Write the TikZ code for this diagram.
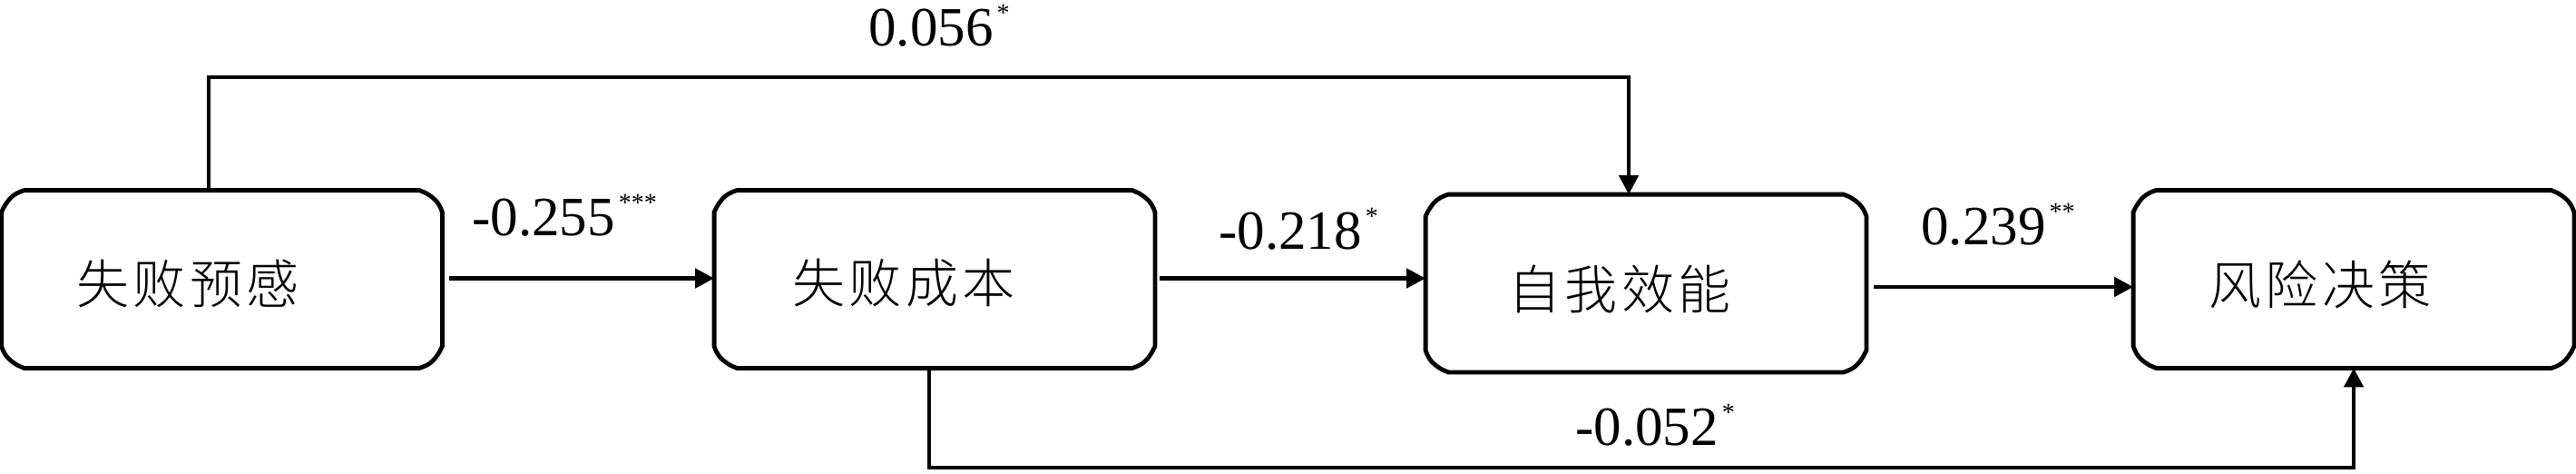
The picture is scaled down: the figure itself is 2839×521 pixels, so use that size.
\documentclass[tikz,border=0pt]{standalone}
\usepackage{fontspec}
\setmainfont{Liberation Serif}
\newfontfamily\cjk[LetterSpace=8,UprightFont={* Light}]{Noto Sans CJK SC}
\usetikzlibrary{arrows.meta,calc}
\newcommand\boxborder[1]{%
\draw[boxline] let \p1=(#1.north west), \p2=(#1.south east) in
 (\x1+12.5pt,\y1) -- (\x2-12.5pt,\y1)
 -- (\x2-9pt,\y1-1.5pt) .. controls (\x2-5pt,\y1-4pt) and (\x2-2pt,\y1-6pt) .. (\x2,\y1-12pt)
 -- (\x2,\y2+12pt)
 -- (\x2-1.5pt,\y2+9pt) .. controls (\x2-4pt,\y2+5pt) and (\x2-6pt,\y2+2pt) .. (\x2-12.5pt,\y2)
 -- (\x1+12.5pt,\y2)
 -- (\x1+9pt,\y2+1.5pt) .. controls (\x1+5pt,\y2+4pt) and (\x1+2pt,\y2+6pt) .. (\x1,\y2+12pt)
 -- (\x1,\y1-12pt)
 -- (\x1+1.5pt,\y1-9pt) .. controls (\x1+4pt,\y1-5pt) and (\x1+6pt,\y1-2pt) .. (\x1+12.5pt,\y1)
 -- cycle;}
\newcommand\sig[1]{\kern2pt\raisebox{13.5pt}{\fontsize{14pt}{14pt}\selectfont #1}}
\begin{document}
\begin{tikzpicture}[x=0.5pt,y=-0.5pt,
  boxnode/.style={minimum width=242.5pt,minimum height=97.5pt,inner sep=0pt,draw=none},
  boxline/.style={line width=2.4pt,line join=miter},
  conn/.style={line width=2.4pt},
  arr/.style={conn,-{Triangle[length=10.5pt,width=10.5pt]}},
  cntext/.style={font=\cjk\fontsize{29pt}{29pt}\selectfont,inner sep=0pt},
  coef/.style={font=\fontsize{30.5pt}{30.5pt}\selectfont,inner sep=0pt,anchor=base west}]
\useasboundingbox (0,0) rectangle (2839,521);
\fill[white] (0,0) rectangle (2839,521);
% boxes
\node[boxnode] (b1) at (244.5,307.5) {};
\node[boxnode] (b2) at (1030,307.5) {};
\node[boxnode] (b3) at (1814,312) {};
\node[boxnode] (b4) at (2594,307.5) {};
\boxborder{b1}
\boxborder{b2}
\boxborder{b3}
\boxborder{b4}
% texts
\node[cntext] (t1) at (207,313) {失败预感};
\node[cntext] (t2) at (996,312) {失败成本};
\node[cntext] (t3) at (1785,318) {自我效能};
\node[cntext] (t4) at (2557,313) {风险决策};
% straight arrows
\coordinate (a1s) at ($(b1.east)+(8,-1)$);
\draw[arr] (a1s) -- (b2.west |- a1s);
\coordinate (a2s) at ($(b2.east)+(5,-1)$);
\draw[arr] (a2s) -- (b3.west |- a2s);
\coordinate (a3s) at ($(b3.east)+(8,4)$);
\draw[arr] (a3s) -- (b4.west |- a3s);
% elbow connectors
\coordinate (tl) at (230,85);
\coordinate (tr) at (1795,85);
\draw[arr] (b1.north -| tl) -- (tl) -- (tr) -- (b3.north -| tr);
\coordinate (bl) at (1024,515);
\draw[arr] (b2.south -| bl) -- (bl) -| (b4.south);
% coefficients
\node[coef] (c1) at (957,50) {0.056\sig{*}};
\node[coef] (c2) at (520,259) {-0.255\sig{***}};
\node[coef] (c3) at (1343,274) {-0.218\sig{*}};
\node[coef] (c4) at (2117,269) {0.239\sig{**}};
\node[coef] (c5) at (1736,490) {-0.052\sig{*}};
\end{tikzpicture}
\end{document}
